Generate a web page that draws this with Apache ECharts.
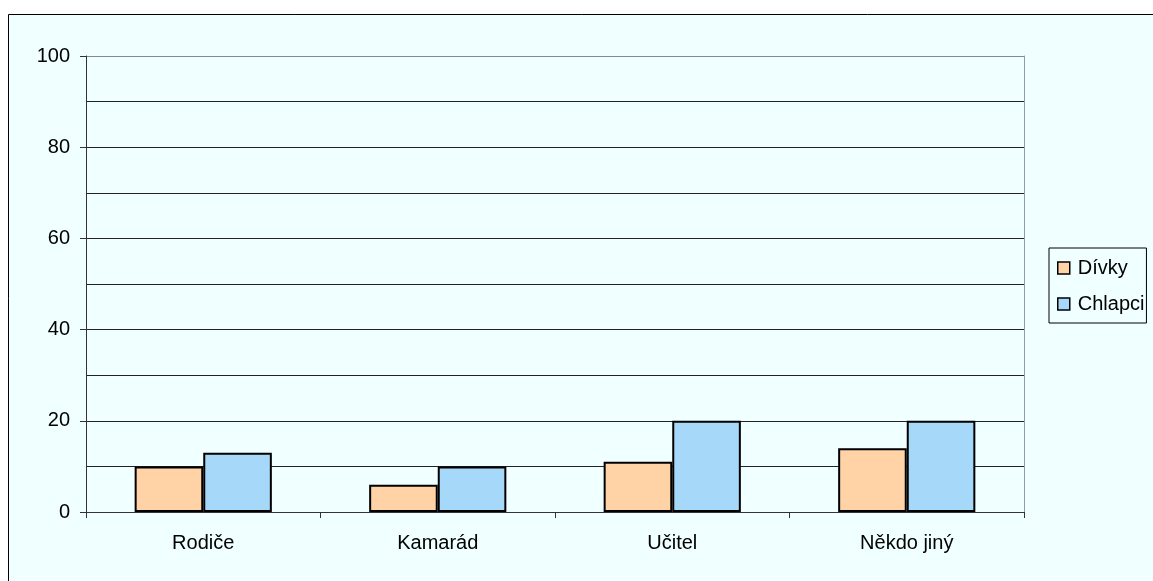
<!DOCTYPE html>
<html>
<head>
<meta charset="utf-8">
<script src="https://cdn.jsdelivr.net/npm/echarts@6/dist/echarts.min.js"></script>
<style>
    html, body { margin: 0; padding: 0; background: #fff; }
    #chart { width: 1153px; height: 581px; }
</style>
</head>
<body>
<div id="chart"></div>
<script>
const categories = ['Rodiče', 'Kamarád', 'Učitel', 'Někdo jiný'];
const divky = [10, 6, 11, 14];
const chlapci = [13, 10, 20, 20];

const font = 'Liberation Sans, Arial, sans-serif';
const chart = echarts.init(document.getElementById('chart'));

chart.setOption({
    animation: false,
    graphic: [
        {
            type: 'rect',
            shape: { x: 8.5, y: 14.5, width: 1160, height: 580 },
            style: { fill: '#f0ffff', stroke: '#000', lineWidth: 1 },
            z: -10
        }
    ],
    grid: {
        left: 86,
        right: 129,
        top: 56,
        bottom: 69
    },
    legend: {
        orient: 'vertical',
        left: 1049,
        top: 248,
        padding: [10, 2, 9, 8],
        itemGap: 16,
        itemWidth: 12,
        itemHeight: 12,
        borderColor: '#000',
        borderWidth: 1,
        icon: 'rect',
        itemStyle: { borderColor: '#000', borderWidth: 1.5 },
        textStyle: { fontFamily: font, fontSize: 20, color: '#000', lineHeight: 20, padding: [0, 0, 0, 3] },
        data: ['Dívky', 'Chlapci']
    },
    xAxis: {
        type: 'category',
        data: categories,
        axisLine: { lineStyle: { color: '#333', width: 1 } },
        axisTick: { show: true, length: 6, lineStyle: { color: '#333' } },
        axisLabel: { fontFamily: font, fontSize: 20, color: '#000', margin: 21 }
    },
    yAxis: [
        {
            type: 'value',
            min: 0,
            max: 100,
            interval: 20,
            axisLine: { show: true, lineStyle: { color: '#333', width: 1 } },
            axisTick: { show: true, length: 6, lineStyle: { color: '#333' } },
            axisLabel: { fontFamily: font, fontSize: 20, color: '#000', margin: 16 },
            splitLine: {
                show: true,
                lineStyle: { color: ['#222', '#222', '#222', '#222', '#222', '#7f8a9a'], width: 1 }
            },
            minorTick: { show: false, splitNumber: 2 },
            minorSplitLine: { show: true, lineStyle: { color: '#222', width: 1 } }
        },
        {
            type: 'value',
            position: 'right',
            min: 0,
            max: 100,
            interval: 20,
            axisLine: { show: true, lineStyle: { color: '#8f9bb0', width: 1 } },
            axisTick: { show: false },
            axisLabel: { show: false },
            splitLine: { show: false }
        }
    ],
    series: [
        {
            name: 'Dívky',
            type: 'bar',
            data: divky,
            barGap: '0%',
            barCategoryGap: '41.5%',
            itemStyle: { color: '#ffd3a6', borderColor: '#000', borderWidth: 2 }
        },
        {
            name: 'Chlapci',
            type: 'bar',
            data: chlapci,
            itemStyle: { color: '#a6d8fa', borderColor: '#000', borderWidth: 2 }
        }
    ]
});
</script>
</body>
</html>
